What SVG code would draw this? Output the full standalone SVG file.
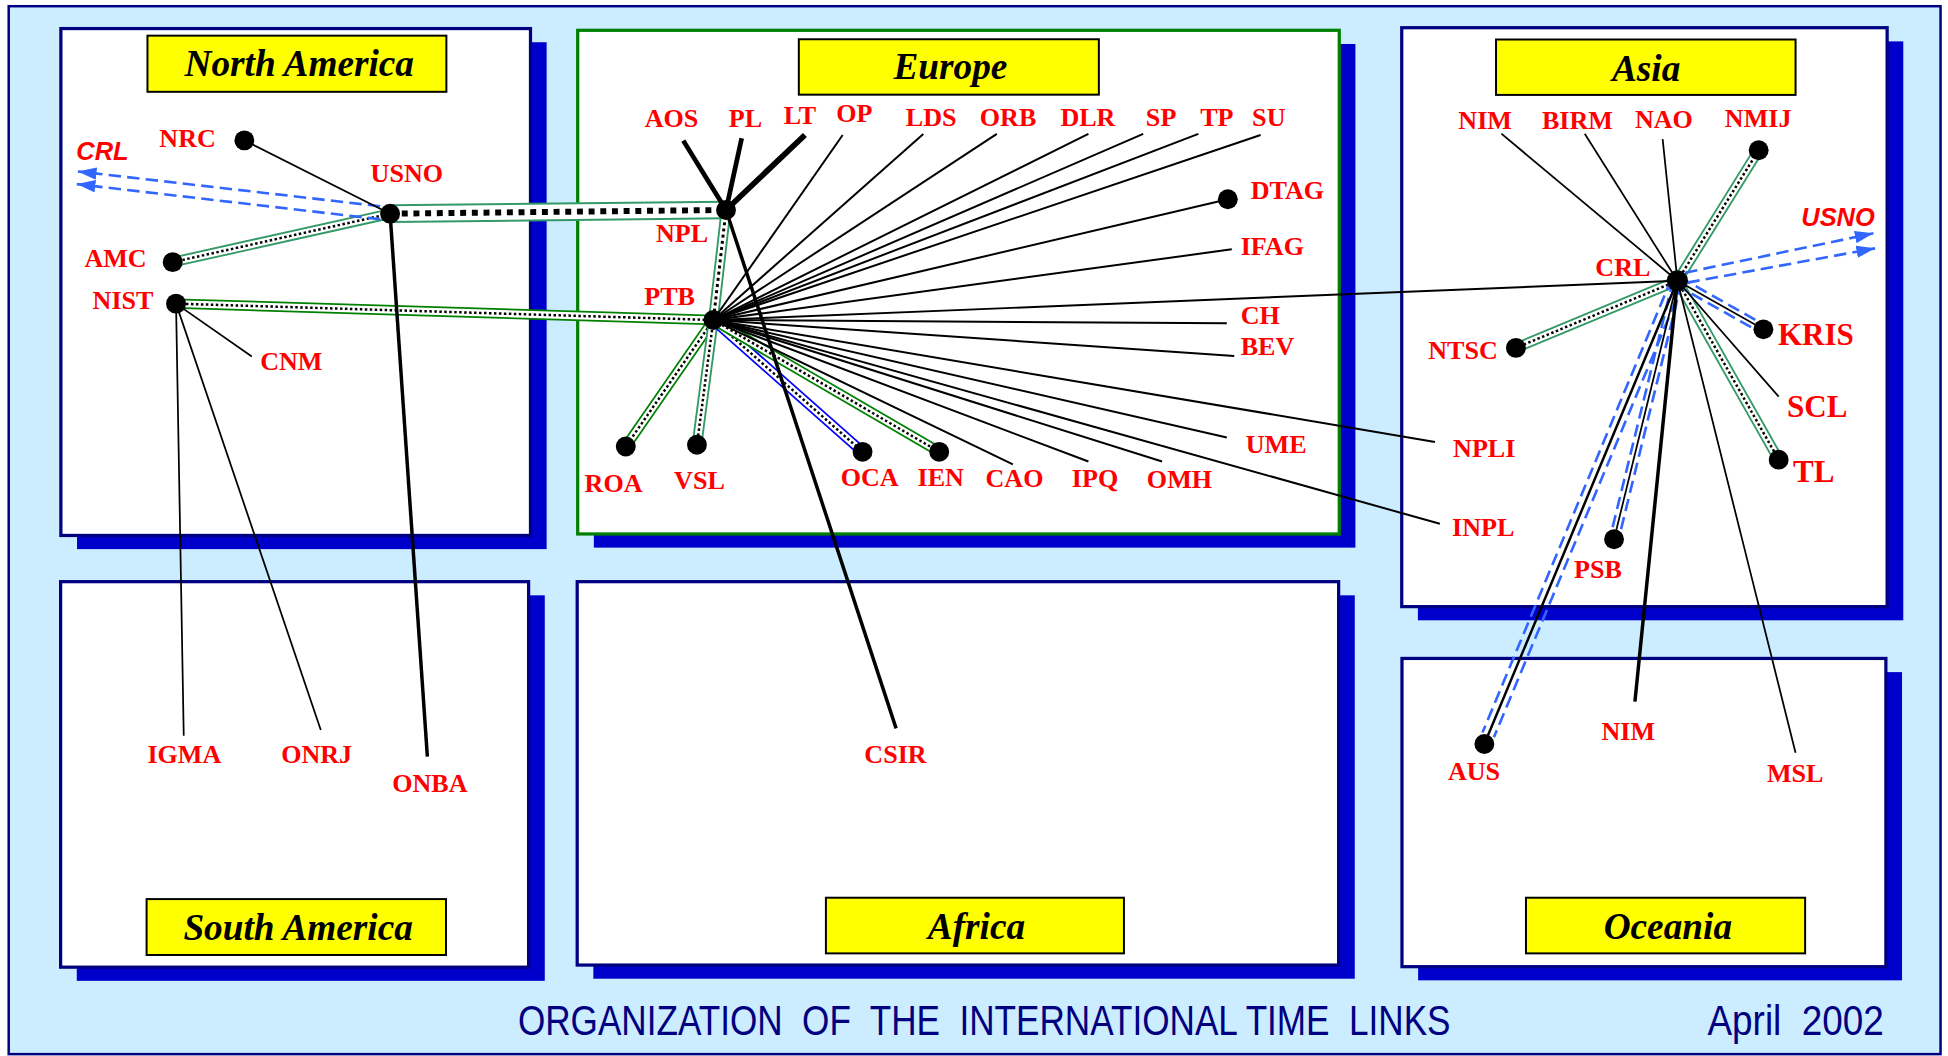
<svg xmlns="http://www.w3.org/2000/svg" width="1948" height="1056" viewBox="0 0 1948 1056">
<style>
.bg{fill:#CCECFF;stroke:#000080;stroke-width:2}
.box{fill:#FFFFFF;stroke:#000080;stroke-width:2.6}
.eu{stroke:#008000}
.shadow{fill:#0000CC}
.tbox{fill:#FFFF00;stroke:#000000;stroke-width:1.6}
.ttl{font-family:"Liberation Serif","Times New Roman",serif;font-weight:bold;font-style:italic;font-size:30px;fill:#000000;text-anchor:middle}
.lbl{font-family:"Liberation Serif","Times New Roman",serif;font-weight:bold;font-size:21px;fill:#FF0000;text-anchor:middle}
.st{text-anchor:start}
.big{font-size:25px}
.ext{font-family:"Liberation Sans",Arial,sans-serif;font-weight:bold;font-style:italic;font-size:20.5px;fill:#FF0000;text-anchor:middle}
.foot{font-family:"Liberation Sans",Arial,sans-serif;font-size:34px;fill:#000080;white-space:pre}
.dot{fill:#000000}
.thin{stroke:#000000;stroke-width:1.4;fill:none}
.fan{stroke:#000000;stroke-width:1.6;fill:none}
.med{stroke:#000000;stroke-width:2;fill:none}
.thick{stroke:#000000;stroke-width:2.8;fill:none}
.heavy{stroke:#000000;stroke-width:3.8;fill:none}
.heavier{stroke:#000000;stroke-width:4.6;fill:none}
.dash{stroke:#3366FF;stroke-width:2.1;stroke-dasharray:10 5;fill:none}
.og{stroke:#339966;stroke-width:8.6;fill:none}
.odg{stroke:#008000;stroke-width:8.4;fill:none}
.ob{stroke:#0000FF;stroke-width:8.4;fill:none}
.iw{stroke:#FFFFFF;stroke-width:5.6;fill:none}
.dd{stroke:#000000;stroke-width:2;stroke-dasharray:2 2;fill:none}
.dm{stroke:#000000;stroke-width:2.4;stroke-dasharray:2.4 2.6;fill:none}
.og2{stroke:#339966;stroke-width:15;fill:none}
.iw2{stroke:#FFFFFF;stroke-width:11.8;fill:none}
.dd2{stroke:#000000;stroke-width:4.8;stroke-dasharray:4.8 4.6;fill:none}
</style>
<defs>
<marker id="arr" viewBox="0 0 15 10" refX="15" refY="5" markerWidth="15" markerHeight="10" markerUnits="userSpaceOnUse" orient="auto">
<path d="M0,0 L15,5 L0,10 Z" fill="#3366FF"/>
</marker>
<line id="L-amc" x1="139" y1="211" x2="314" y2="172"/>
<line id="L-usnpl" x1="314" y1="172" x2="584.4" y2="169"/>
<line id="L-nist" x1="141.7" y1="244.4" x2="574.2" y2="257.6"/>
<line id="L-nplptb" x1="584.4" y1="169" x2="574.2" y2="257.6"/>
<line id="L-roa" x1="574.2" y1="257.6" x2="503.7" y2="359.4"/>
<line id="L-vsl" x1="574.2" y1="257.6" x2="561" y2="358"/>
<line id="L-oca" x1="574.2" y1="257.6" x2="694.3" y2="363.7"/>
<line id="L-ien" x1="574.2" y1="257.6" x2="756" y2="363.7"/>
<line id="L-nmij" x1="1350.2" y1="226" x2="1415.6" y2="120.9"/>
<line id="L-ntsc" x1="1350.2" y1="226" x2="1220.2" y2="280"/>
<line id="L-tl" x1="1350.2" y1="226" x2="1431.7" y2="370"/>
</defs>
<rect x="0" y="0" width="1948" height="1056" fill="#FFFFFF"/>
<g transform="scale(1.242347)">
<rect class="bg" x="7" y="5" width="1555" height="843.5"/>

<g id="region-north-america">
<rect class="shadow" x="62" y="34" width="378" height="408"/>
<rect class="box" x="49" y="23" width="378" height="408"/>
<rect class="tbox" x="118.7" y="28.7" width="240.6" height="45.2"/>
<text class="ttl" x="240.9" y="61.2">North America</text>
</g>
<g id="region-europe">
<rect class="shadow" x="478" y="35.4" width="613" height="405.4"/>
<rect class="box eu" x="465" y="24.4" width="613" height="405.4"/>
<rect class="tbox" x="643" y="31.6" width="241.5" height="44.6"/>
<text class="ttl" x="765" y="63.8">Europe</text>
</g>
<g id="region-asia">
<rect class="shadow" x="1141.3" y="33.3" width="390.7" height="466"/>
<rect class="box" x="1128.3" y="22.3" width="390.7" height="466"/>
<rect class="tbox" x="1204.2" y="31.8" width="241.1" height="44.6"/>
<text class="ttl" x="1325" y="65.2">Asia</text>
</g>
<g id="region-south-america">
<rect class="shadow" x="61.8" y="479.2" width="376.7" height="310.3"/>
<rect class="box" x="48.8" y="468.2" width="376.7" height="310.3"/>
<rect class="tbox" x="118" y="723.7" width="241" height="45"/>
<text class="ttl" x="240" y="756.6">South America</text>
</g>
<g id="region-africa">
<rect class="shadow" x="477.6" y="479.2" width="612.9" height="308.6"/>
<rect class="box" x="464.6" y="468.2" width="612.9" height="308.6"/>
<rect class="tbox" x="664.8" y="722.6" width="239.9" height="44.8"/>
<text class="ttl" x="786" y="755.5">Africa</text>
</g>
<g id="region-oceania">
<rect class="shadow" x="1141.5" y="541" width="389.5" height="248.1"/>
<rect class="box" x="1128.5" y="530" width="389.5" height="248.1"/>
<rect class="tbox" x="1228.3" y="722.6" width="224.7" height="44.8"/>
<text class="ttl" x="1342.5" y="755.5">Oceania</text>
</g>

<g id="connectors">
<use href="#L-amc" class="og"/><use href="#L-amc" class="iw"/><use href="#L-amc" class="dd"/>
<use href="#L-usnpl" class="og2"/><use href="#L-usnpl" class="iw2"/><use href="#L-usnpl" class="dd2"/>
<use href="#L-nist" class="odg"/><use href="#L-nist" class="iw"/><use href="#L-nist" class="dd"/>
<use href="#L-nplptb" class="og"/><use href="#L-nplptb" class="iw"/><use href="#L-nplptb" class="dm"/>
<use href="#L-roa" class="odg"/><use href="#L-roa" class="iw"/><use href="#L-roa" class="dd"/>
<use href="#L-vsl" class="og"/><use href="#L-vsl" class="iw"/><use href="#L-vsl" class="dd"/>
<use href="#L-oca" class="ob"/><use href="#L-oca" class="iw"/><use href="#L-oca" class="dd"/>
<use href="#L-ien" class="odg"/><use href="#L-ien" class="iw"/><use href="#L-ien" class="dd"/>
<use href="#L-nmij" class="og"/><use href="#L-nmij" class="iw"/><use href="#L-nmij" class="dd"/>
<use href="#L-ntsc" class="og"/><use href="#L-ntsc" class="iw"/><use href="#L-ntsc" class="dd"/>
<use href="#L-tl" class="og"/><use href="#L-tl" class="iw"/><use href="#L-tl" class="dd"/>
<line class="dash" x1="306" y1="166" x2="62.7" y2="138" marker-end="url(#arr)"/>
<line class="dash" x1="306" y1="176.5" x2="61.8" y2="148.2" marker-end="url(#arr)"/>
<line class="dash" x1="1356.4" y1="219.5" x2="1508" y2="187.8" marker-end="url(#arr)"/>
<line class="dash" x1="1358.2" y1="227.5" x2="1509.3" y2="199.9" marker-end="url(#arr)"/>
<line class="dash" x1="1348.5" y1="229" x2="1412" y2="264.8"/>
<line class="dash" x1="1351.9" y1="223" x2="1415.5" y2="258.9"/>
<line class="dash" x1="1353.6" y1="226.8" x2="1304.5" y2="427.3"/>
<line class="dash" x1="1346.8" y1="225.2" x2="1297.7" y2="425.7"/>
<line class="dash" x1="1354.8" y1="227.9" x2="1202.5" y2="593.4"/>
<line class="dash" x1="1345.6" y1="224.1" x2="1193.3" y2="589.6"/>
<line class="thin" x1="196.7" y1="113" x2="314" y2="172"/>
<line class="thin" x1="141.7" y1="244.4" x2="147.9" y2="592.2"/>
<line class="thin" x1="141.7" y1="244.4" x2="258.2" y2="587.6"/>
<line class="thin" x1="141.7" y1="244.4" x2="202.7" y2="286.9"/>
<line class="fan" x1="574.2" y1="257.6" x2="678.3" y2="108.7"/>
<line class="fan" x1="574.2" y1="257.6" x2="743.2" y2="107.8"/>
<line class="fan" x1="574.2" y1="257.6" x2="802.4" y2="107.8"/>
<line class="fan" x1="574.2" y1="257.6" x2="876.1" y2="107.8"/>
<line class="fan" x1="574.2" y1="257.6" x2="920.2" y2="107.8"/>
<line class="fan" x1="574.2" y1="257.6" x2="964.6" y2="107.8"/>
<line class="fan" x1="574.2" y1="257.6" x2="1014.7" y2="108.7"/>
<line class="fan" x1="574.2" y1="257.6" x2="988.3" y2="160.4"/>
<line class="fan" x1="574.2" y1="257.6" x2="991.5" y2="200.7"/>
<line class="fan" x1="574.2" y1="257.6" x2="1350.2" y2="226"/>
<line class="fan" x1="574.2" y1="257.6" x2="987.5" y2="260.2"/>
<line class="fan" x1="574.2" y1="257.6" x2="993.5" y2="286.6"/>
<line class="fan" x1="574.2" y1="257.6" x2="987.5" y2="352.2"/>
<line class="fan" x1="574.2" y1="257.6" x2="1155.1" y2="355.7"/>
<line class="fan" x1="574.2" y1="257.6" x2="1159" y2="421.6"/>
<line class="fan" x1="574.2" y1="257.6" x2="815.3" y2="373.8"/>
<line class="fan" x1="574.2" y1="257.6" x2="876.1" y2="371.5"/>
<line class="fan" x1="574.2" y1="257.6" x2="935.4" y2="371.5"/>
<line class="thin" x1="1350.2" y1="226" x2="1208.5" y2="107.6"/>
<line class="thin" x1="1350.2" y1="226" x2="1275.6" y2="107.6"/>
<line class="thin" x1="1350.2" y1="226" x2="1338.3" y2="112"/>
<line class="thin" x1="1350.2" y1="226" x2="1419.4" y2="265.1"/>
<line class="thin" x1="1350.2" y1="226" x2="1431.7" y2="319.2"/>
<line class="thin" x1="1350.2" y1="226" x2="1299.2" y2="434.1"/>
<line class="thin" x1="1350.2" y1="226" x2="1445.3" y2="605.9"/>
<line class="med" x1="1350.2" y1="226" x2="1194.8" y2="598.9"/>
<line class="thick" x1="314" y1="172" x2="344" y2="609"/>
<line class="thick" x1="584.4" y1="169" x2="721.3" y2="586.3"/>
<line class="thick" x1="1350.2" y1="226" x2="1316" y2="564.8"/>
<line class="heavy" x1="584.4" y1="169" x2="550" y2="113.2"/>
<line class="heavy" x1="584.4" y1="169" x2="597" y2="111.3"/>
<line class="heavier" x1="584.4" y1="169" x2="647.9" y2="108.7"/>
</g>

<g id="node-nrc"><circle class="dot" cx="196.7" cy="113" r="8"/><text class="lbl" x="151" y="118.5">NRC</text></g>
<g id="node-usno"><circle class="dot" cx="314" cy="172" r="8"/><text class="lbl" x="327.5" y="146.5">USNO</text></g>
<g id="node-amc"><circle class="dot" cx="139" cy="211" r="8"/><text class="lbl" x="93" y="215">AMC</text></g>
<g id="node-nist"><circle class="dot" cx="141.7" cy="244.4" r="8"/><text class="lbl" x="99" y="248.7">NIST</text></g>
<g id="node-cnm"><text class="lbl" x="234.5" y="298">CNM</text></g>
<g id="ext-crl"><text class="ext" x="82.5" y="128.5">CRL</text></g>

<g id="node-npl"><circle class="dot" cx="584.4" cy="169" r="8"/><text class="lbl" x="549" y="194.6">NPL</text></g>
<g id="node-ptb"><circle class="dot" cx="574.2" cy="257.6" r="8"/><text class="lbl" x="539" y="245.8">PTB</text></g>
<g id="node-aos"><text class="lbl" x="540.5" y="102">AOS</text></g>
<g id="node-pl"><text class="lbl" x="600" y="102">PL</text></g>
<g id="node-lt"><text class="lbl" x="644" y="99.8">LT</text></g>
<g id="node-op"><text class="lbl" x="687.7" y="98.3">OP</text></g>
<g id="node-lds"><text class="lbl" x="749.5" y="101.5">LDS</text></g>
<g id="node-orb"><text class="lbl" x="811.4" y="101.5">ORB</text></g>
<g id="node-dlr"><text class="lbl" x="875.7" y="101.5">DLR</text></g>
<g id="node-sp"><text class="lbl" x="934.6" y="101.5">SP</text></g>
<g id="node-tp"><text class="lbl" x="979.5" y="101.5">TP</text></g>
<g id="node-su"><text class="lbl" x="1021.3" y="101.5">SU</text></g>
<g id="node-dtag"><circle class="dot" cx="988.3" cy="160.4" r="8"/><text class="lbl st" x="1006.7" y="160.4">DTAG</text></g>
<g id="node-ifag"><text class="lbl st" x="998.7" y="205.6">IFAG</text></g>
<g id="node-ch"><text class="lbl st" x="998.7" y="261">CH</text></g>
<g id="node-bev"><text class="lbl st" x="998.7" y="286">BEV</text></g>
<g id="node-ume"><text class="lbl st" x="1002.7" y="364.6">UME</text></g>
<g id="node-roa"><circle class="dot" cx="503.7" cy="359.4" r="8"/><text class="lbl" x="493.9" y="396">ROA</text></g>
<g id="node-vsl"><circle class="dot" cx="561" cy="358" r="8"/><text class="lbl" x="563" y="393.9">VSL</text></g>
<g id="node-oca"><circle class="dot" cx="694.3" cy="363.7" r="8"/><text class="lbl" x="700" y="391.6">OCA</text></g>
<g id="node-ien"><circle class="dot" cx="756" cy="363.7" r="8"/><text class="lbl" x="757.2" y="391.6">IEN</text></g>
<g id="node-cao"><text class="lbl" x="816.6" y="392">CAO</text></g>
<g id="node-ipq"><text class="lbl" x="881.4" y="392">IPQ</text></g>
<g id="node-omh"><text class="lbl" x="949.4" y="392.5">OMH</text></g>

<g id="node-crl"><circle class="dot" cx="1350.2" cy="226" r="8.5"/><text class="lbl" x="1306.3" y="222.1">CRL</text></g>
<g id="node-nim-asia"><text class="lbl" x="1195.4" y="104">NIM</text></g>
<g id="node-birm"><text class="lbl" x="1269.7" y="104">BIRM</text></g>
<g id="node-nao"><text class="lbl" x="1339.3" y="103.4">NAO</text></g>
<g id="node-nmij"><circle class="dot" cx="1415.6" cy="120.9" r="8"/><text class="lbl" x="1415.2" y="102.5">NMIJ</text></g>
<g id="ext-usno"><text class="ext" x="1479.5" y="182">USNO</text></g>
<g id="node-ntsc"><circle class="dot" cx="1220.2" cy="280" r="8"/><text class="lbl" x="1177.6" y="289">NTSC</text></g>
<g id="node-kris"><circle class="dot" cx="1419.4" cy="265.1" r="8"/><text class="lbl st big" x="1431.1" y="277.8">KRIS</text></g>
<g id="node-scl"><text class="lbl st big" x="1438.4" y="335.7">SCL</text></g>
<g id="node-tl"><circle class="dot" cx="1431.7" cy="370" r="8"/><text class="lbl st big" x="1443.3" y="387.6">TL</text></g>
<g id="node-npli"><text class="lbl" x="1194.7" y="367.5">NPLI</text></g>
<g id="node-inpl"><text class="lbl" x="1193.9" y="431.2">INPL</text></g>
<g id="node-psb"><circle class="dot" cx="1299.2" cy="434.1" r="8"/><text class="lbl" x="1286.2" y="465.2">PSB</text></g>

<g id="node-aus"><circle class="dot" cx="1194.8" cy="598.9" r="8"/><text class="lbl" x="1186.5" y="627.9">AUS</text></g>
<g id="node-nim-oceania"><text class="lbl" x="1310.6" y="595.7">NIM</text></g>
<g id="node-msl"><text class="lbl" x="1445" y="629.2">MSL</text></g>

<g id="node-igma"><text class="lbl" x="148.4" y="614.4">IGMA</text></g>
<g id="node-onrj"><text class="lbl" x="254.9" y="614.5">ONRJ</text></g>
<g id="node-onba"><text class="lbl" x="346" y="637.3">ONBA</text></g>
<g id="node-csir"><text class="lbl" x="720.8" y="614.5">CSIR</text></g>

<g id="footer">
<text class="foot" x="416.9" y="833.5" textLength="750.7" lengthAdjust="spacingAndGlyphs" xml:space="preserve">ORGANIZATION  OF  THE  INTERNATIONAL TIME  LINKS</text>
<text class="foot" x="1374.4" y="833.5" textLength="142" lengthAdjust="spacingAndGlyphs" xml:space="preserve">April  2002</text>
</g>
</g>
</svg>
